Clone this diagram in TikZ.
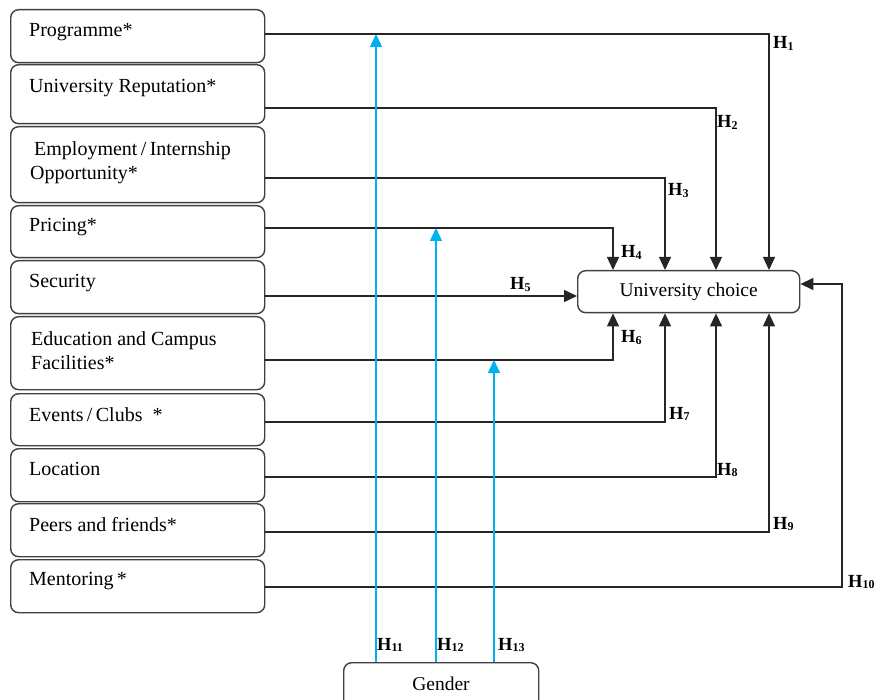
\documentclass[tikz,border=0pt]{standalone}
\usepackage{fontspec}
\setmainfont{Liberation Serif}
\usetikzlibrary{arrows.meta}
\definecolor{hblue}{RGB}{0,176,240}
\newcommand\hlab[1]{{\fontsize{18.5}{20}\selectfont\bfseries H\raisebox{-1.5pt}{\fontsize{12}{12}\selectfont #1}}}
\tikzset{
  fbox/.style={draw=black!75, line width=1.4pt, rounded corners=8pt, fill=white, anchor=north west, inner sep=0pt},
  ftext/.style={anchor=base west, inner sep=0pt, font=\fontsize{20}{24}\selectfont},
  hl/.style={anchor=base west, inner sep=0pt},
  conn/.style={draw=black!85, line width=1.3pt, -{Triangle[length=13pt,width=12pt]}},
  bconn/.style={draw=hblue, line width=1.5pt, -{Triangle[length=13pt,width=12pt]}},
}
\begin{document}
\begin{tikzpicture}[x=1pt,y=-1pt]
\useasboundingbox (0,0) rectangle (883,700);
\clip (0,0) rectangle (883,700);
% left boxes
\node[fbox, minimum width=254pt, minimum height=53pt] (b1) at (10,9) {};
\node[fbox, minimum width=254pt, minimum height=59pt] (b2) at (10,64) {};
\node[fbox, minimum width=254pt, minimum height=76pt] (b3) at (10,126) {};
\node[fbox, minimum width=254pt, minimum height=52pt] (b4) at (10,205) {};
\node[fbox, minimum width=254pt, minimum height=53pt] (b5) at (10,260) {};
\node[fbox, minimum width=254pt, minimum height=73pt] (b6) at (10,316) {};
\node[fbox, minimum width=254pt, minimum height=52pt] (b7) at (10,393) {};
\node[fbox, minimum width=254pt, minimum height=53pt] (b8) at (10,448) {};
\node[fbox, minimum width=254pt, minimum height=53pt] (b9) at (10,503) {};
\node[fbox, minimum width=254pt, minimum height=53pt] (b10) at (10,559) {};
% texts
\node[ftext] (t1) at (29,36.7) {Programme*};
\node[ftext] (t2) at (29,92.7) {University Reputation*};
\node[ftext] (t3a) at (34,155.7) {Employment\,/\,Internship};
\node[ftext] (t3b) at (30,180) {Opportunity*};
\node[ftext] (t4) at (29,232) {Pricing*};
\node[ftext] (t5) at (29,288) {Security};
\node[ftext] (t6a) at (31,345) {Education and Campus};
\node[ftext] (t6b) at (31,369) {Facilities*};
\node[ftext] (t7) at (29,421) {Events\,/\,Clubs \ *};
\node[ftext] (t8) at (29,475) {Location};
\node[ftext] (t9) at (29,531) {Peers and friends*};
\node[ftext] (t10) at (29,585) {Mentoring\,*};
% target
\node[fbox, minimum width=222pt, minimum height=42pt, font=\fontsize{19.5}{22}\selectfont] (uc) at (577,270) {University choice};
% gender
\node[fbox, minimum width=195pt, minimum height=60pt] (g) at (343,662) {};
\node[anchor=base, inner sep=0pt, font=\fontsize{19.5}{22}\selectfont] (gt) at (441,690) {Gender};
% helper coordinates
\coordinate (xa) at (613,0);
\coordinate (xb) at (665,0);
\coordinate (xc) at (716,0);
\coordinate (xd) at (769,0);
\coordinate (xe) at (842,0);
\coordinate (y1) at (0,34);
\coordinate (y2) at (0,108);
\coordinate (y3) at (0,178);
\coordinate (y4) at (0,228);
\coordinate (y5) at (0,296);
\coordinate (y6) at (0,360);
\coordinate (y7) at (0,422);
\coordinate (y8) at (0,477);
\coordinate (y9) at (0,532);
\coordinate (y10) at (0,587);
\coordinate (yr) at (0,284);
\coordinate (g1) at (376,0);
\coordinate (g2) at (436,0);
\coordinate (g3) at (494,0);
% black connectors
\draw[conn] (b1.east |- y1) -| (uc.north -| xd);
\draw[conn] (b2.east |- y2) -| (uc.north -| xc);
\draw[conn] (b3.east |- y3) -| (uc.north -| xb);
\draw[conn] (b4.east |- y4) -| (uc.north -| xa);
\draw[conn] (b5.east |- y5) -- (uc.west |- y5);
\draw[conn] (b6.east |- y6) -| (uc.south -| xa);
\draw[conn] (b7.east |- y7) -| (uc.south -| xb);
\draw[conn] (b8.east |- y8) -| (uc.south -| xc);
\draw[conn] (b9.east |- y9) -| (uc.south -| xd);
\draw[conn] (b10.east |- y10) -| (xe |- yr) -- (uc.east |- yr);
% blue connectors
\draw[bconn] (g.north -| g1) -- (g1 |- y1);
\draw[bconn] (g.north -| g2) -- (g2 |- y4);
\draw[bconn] (g.north -| g3) -- (g3 |- y6);
% labels
\node[hl] (h1) at (773,49) {\hlab{1}};
\node[hl] (h2) at (717,128) {\hlab{2}};
\node[hl] (h3) at (668,196) {\hlab{3}};
\node[hl] (h4) at (621,258) {\hlab{4}};
\node[hl] (h5) at (510,290) {\hlab{5}};
\node[hl] (h6) at (621,343) {\hlab{6}};
\node[hl] (h7) at (669,419) {\hlab{7}};
\node[hl] (h8) at (717,475) {\hlab{8}};
\node[hl] (h9) at (773,529) {\hlab{9}};
\node[hl] (h10) at (848,587) {\hlab{10}};
\node[hl] (h11) at (377,650) {\hlab{11}};
\node[hl] (h12) at (437,650) {\hlab{12}};
\node[hl] (h13) at (498,650) {\hlab{13}};
\end{tikzpicture}
\end{document}
